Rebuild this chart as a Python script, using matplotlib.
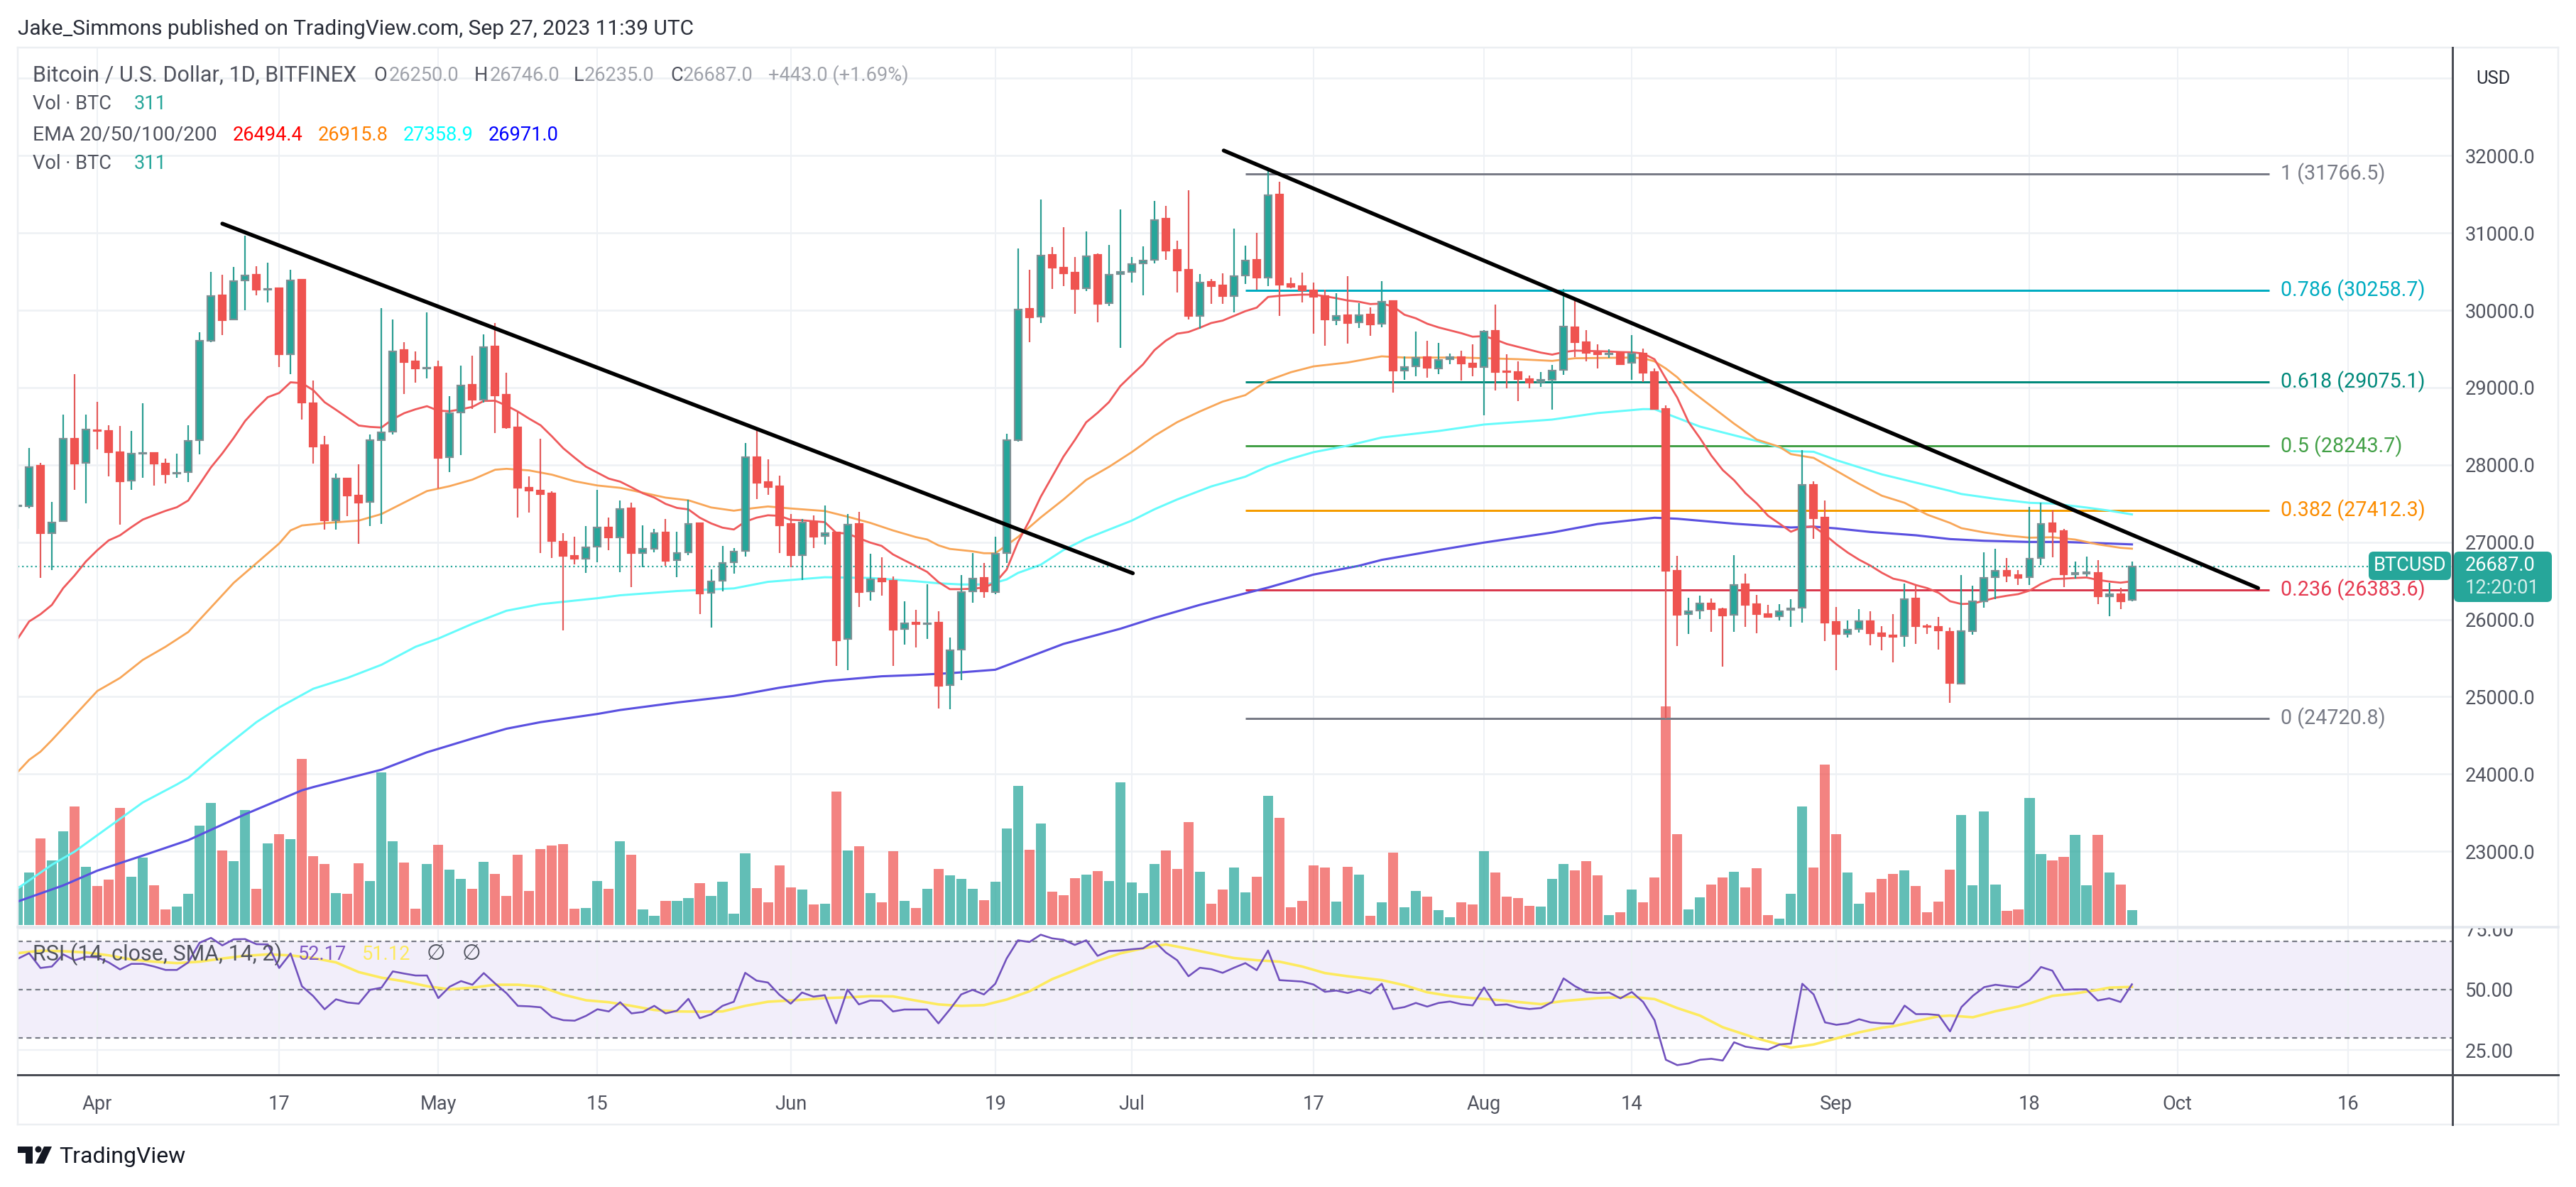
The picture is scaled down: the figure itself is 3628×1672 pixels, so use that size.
import numpy as np
import matplotlib
matplotlib.use('Agg')
import matplotlib.pyplot as plt
from matplotlib.lines import Line2D
from matplotlib.patches import FancyBboxPatch, Rectangle, Polygon, Circle
from matplotlib.transforms import IdentityTransform

W, H = 3628, 1672
DPI = 200
px = 72 / DPI

plt.rcParams['font.family'] = ['Roboto', 'DejaVu Sans']

# day index: 0 = 2023-04-01, last candle = 2023-09-27
days = np.arange(-7, 180)

opens = [27465, 27470, 27986, 27121, 27270, 28342, 28022, 28450, 28443, 28167,
         27797, 28146, 28150, 28018, 27885, 27902, 28316, 29606, 30190, 29878,
         30383, 30456, 30268, 30285, 29431, 30394, 28800, 28251, 27285, 27822,
         27604, 27517, 28324, 28429, 29482, 29337, 29250, 29264, 28095, 28676,
         29036, 28840, 29532, 28910, 28484, 27703, 27663, 27633, 27005, 26821,
         26790, 26943, 27188, 27060, 27440, 26857, 26913, 27127, 26766, 26867,
         27247, 26343, 26499, 26738, 26885, 28101, 27776, 27721, 27237, 26830,
         27259, 27078, 27127, 25749, 27234, 26361, 26527, 26499, 25874, 25960,
         25940, 25957, 25151, 25611, 26361, 26536, 26358, 26856, 28324, 30016,
         29918, 30713, 30548, 30486, 30285, 30716, 30089, 30465, 30493, 30603,
         30649, 31184, 30780, 30523, 29924, 30364, 30321, 30187, 30447, 30652,
         30422, 31495, 30337, 30309, 30260, 30187, 29872, 29933, 29841, 29942,
         29826, 30120, 29221, 29276, 29392, 29246, 29366, 29396, 29313, 29268,
         29730, 29212, 29204, 29111, 29077, 29096, 29227, 29782, 29591, 29452,
         29435, 29452, 29317, 29441, 29201, 28728, 26631, 26068, 26113, 26207,
         26132, 26065, 26455, 26200, 26069, 26042, 26125, 26151, 27741, 27321,
         25967, 25816, 25874, 25982, 25826, 25795, 25783, 26273, 25914, 25905,
         25844, 25172, 25853, 26236, 26543, 26629, 26574, 26546, 26792, 27242,
         27141, 26586, 26595, 26604, 26295, 26328, 26250]
highs = [27804, 28222, 28022, 27525, 28647, 29170, 28647, 28814, 28516, 28502,
         28443, 28799, 28160, 28077, 28149, 28516, 29718, 30492, 30463, 30557,
         30964, 30572, 30619, 30290, 30521, 30408, 29094, 28378, 27884, 27830,
         28004, 28393, 30031, 29885, 29584, 29464, 29973, 29344, 28887, 29282,
         29412, 29688, 29839, 29196, 28689, 27853, 28337, 27654, 27121, 27072,
         27210, 27678, 27320, 27541, 27510, 27219, 27173, 27302, 27136, 27550,
         27250, 26649, 26949, 26925, 28282, 28481, 28071, 27862, 27363, 27296,
         27348, 27473, 27130, 27363, 27391, 26851, 26802, 26554, 26233, 26122,
         26453, 26110, 25764, 26576, 26861, 26729, 27075, 28404, 30798, 30523,
         31431, 30817, 31074, 30685, 31019, 30734, 30844, 31303, 30685, 30829,
         31416, 31349, 30899, 31548, 30468, 30401, 30477, 31052, 30835, 31000,
         31838, 31661, 30422, 30486, 30355, 30263, 30223, 30441, 30095, 30034,
         30376, 30132, 29401, 29722, 29606, 29576, 29441, 29478, 29557, 29745,
         30071, 29433, 29336, 29152, 29197, 29291, 30277, 30165, 29741, 29557,
         29493, 29471, 29681, 29501, 29246, 28773, 26826, 26282, 26309, 26271,
         26151, 26834, 26594, 26320, 26189, 26196, 26264, 28188, 27783, 27539,
         26166, 25991, 26138, 26105, 25911, 26068, 26460, 26436, 25945, 26037,
         25899, 26574, 26436, 26865, 26911, 26795, 26635, 27457, 27509, 27414,
         27169, 26746, 26813, 26767, 26473, 26405, 26746]
lows = [27168, 27441, 26540, 26642, 27259, 27677, 27503, 28204, 27848, 27223,
        27677, 27833, 27728, 27761, 27833, 27775, 28138, 29584, 29682, 29874,
        30002, 30190, 30100, 29268, 29173, 28585, 28015, 27165, 27165, 27339,
        26980, 27209, 27238, 28396, 28919, 29065, 29119, 27695, 27906, 28131,
        28724, 28806, 28413, 28466, 27317, 27387, 26858, 26799, 25862, 26714,
        26606, 26744, 26897, 26612, 26423, 26674, 26873, 26698, 26551, 26836,
        26073, 25893, 26367, 26597, 26809, 27553, 27608, 26861, 26674, 26515,
        26928, 26974, 25403, 25341, 26165, 26248, 26312, 25403, 25678, 25642,
        25749, 24845, 24836, 25219, 26214, 26285, 26328, 26729, 28297, 29590,
        29838, 30279, 30315, 29957, 30248, 29844, 30058, 29514, 30361, 30193,
        30609, 30655, 30233, 29881, 29759, 30086, 30086, 29973, 30340, 30263,
        30315, 29927, 30288, 30104, 29701, 29545, 29811, 29572, 29774, 29673,
        29783, 28933, 29104, 29147, 29132, 29171, 29302, 29088, 29144, 28642,
        28964, 28991, 28825, 28991, 29009, 28713, 29163, 29396, 29336, 29246,
        29388, 29291, 29096, 29077, 28713, 24720, 25656, 25810, 26001, 25840,
        25386, 25840, 25900, 25821, 26027, 25990, 25900, 25956, 27040, 25720,
        25347, 25767, 25832, 25666, 25602, 25445, 25645, 25684, 25813, 25611,
        24924, 25163, 25807, 26151, 26267, 26482, 26445, 26445, 26703, 26807,
        26420, 26531, 26555, 26200, 26043, 26135, 26235]
closes = [27475, 27975, 27121, 27252, 28342, 28018, 28458, 28440, 28167, 27790,
          28146, 28150, 28018, 27880, 27895, 28313, 29606, 30183, 29874, 30376,
          30452, 30267, 30280, 29428, 30390, 28807, 28240, 27281, 27822, 27604,
          27514, 28320, 28422, 29468, 29330, 29250, 29255, 28091, 28669, 29028,
          28840, 29522, 28901, 28481, 27703, 27663, 27620, 27014, 26821, 26790,
          26937, 27194, 27060, 27427, 26857, 26910, 27121, 26760, 26864, 27240,
          26340, 26496, 26735, 26882, 28095, 27773, 27718, 27222, 26830, 27250,
          27075, 27118, 25727, 27228, 26358, 26521, 26496, 25871, 25954, 25940,
          25950, 25145, 25605, 26358, 26530, 26361, 26847, 28320, 30013, 29912,
          30707, 30554, 30480, 30279, 30701, 30086, 30462, 30499, 30600, 30646,
          31171, 30774, 30514, 29927, 30361, 30315, 30187, 30444, 30646, 30425,
          31486, 30330, 30303, 30260, 30172, 29884, 29930, 29838, 29936, 29820,
          30110, 29224, 29270, 29389, 29260, 29354, 29392, 29313, 29264, 29722,
          29197, 29197, 29111, 29066, 29096, 29219, 29790, 29587, 29448, 29433,
          29441, 29302, 29444, 29193, 28720, 26627, 26057, 26102, 26204, 26132,
          26050, 26447, 26189, 26069, 26035, 26110, 26144, 27738, 27314, 25956,
          25813, 25868, 25979, 25822, 25789, 25776, 26261, 25914, 25905, 25859,
          25178, 25850, 26236, 26540, 26626, 26565, 26540, 26788, 27239, 27138,
          26586, 26604, 26611, 26295, 26328, 26236, 26687]

volumes = [816, 1092, 1802, 1344, 1961, 2465, 1221, 810, 945, 2436,
           1004, 1403, 822, 323, 382, 646, 2066, 2542, 1561, 1327,
           2395, 751, 1696, 1890, 1784, 3457, 1432, 1268, 663, 646,
           1286, 916, 3176, 1743, 1297, 335, 1268, 1667, 1151, 957,
           751, 1315, 1062, 605, 1473, 704, 1579, 1655, 1685, 335,
           352, 916, 751, 1743, 1473, 323, 188, 499, 511, 558,
           869, 605, 898, 235, 1491, 763, 470, 1250, 781, 734,
           423, 440, 2777, 1561, 1648, 666, 476, 1541, 501, 355,
           754, 1167, 1033, 964, 754, 520, 900, 2010, 2897, 1566,
           2118, 697, 621, 976, 1052, 1122, 919, 2973, 888, 666,
           1274, 1553, 1167, 2143, 1110, 444, 742, 1198, 678, 1008,
           2695, 2232, 368, 501, 1243, 1198, 488, 1211, 1052, 190,
           476, 1509, 368, 710, 590, 311, 165, 476, 431, 1534,
           1097, 590, 564, 399, 387, 964, 1274, 1141, 1331, 1033,
           209, 266, 742, 476, 989, 4558, 1896, 323, 577, 843,
           989, 1110, 786, 1186, 209, 133, 653, 2473, 1198, 3341,
           1896, 1097, 444, 678, 964, 1065, 1141, 812, 266, 488,
           1154, 2295, 831, 2365, 843, 298, 323, 2650, 1477, 1344,
           1420, 1877, 831, 1877, 1097, 843, 311]

ema20 = [25752, 25974, 26068, 26188, 26406, 26569, 26751, 26896, 27023, 27089,
         27194, 27292, 27350, 27405, 27452, 27539, 27750, 27968, 28149, 28349,
         28567, 28730, 28876, 28930, 29068, 29057, 28966, 28810, 28712, 28610,
         28509, 28491, 28483, 28592, 28669, 28719, 28759, 28701, 28694, 28719,
         28750, 28827, 28830, 28766, 28689, 28597, 28512, 28368, 28214, 28092,
         27976, 27899, 27822, 27783, 27709, 27632, 27577, 27495, 27443, 27424,
         27317, 27243, 27188, 27164, 27265, 27317, 27348, 27341, 27289, 27283,
         27271, 27259, 27121, 27112, 27051, 26995, 26952, 26842, 26766, 26692,
         26616, 26484, 26392, 26392, 26398, 26413, 26476, 26645, 27003, 27278,
         27587, 27847, 28107, 28321, 28551, 28673, 28811, 29019, 29162, 29300,
         29483, 29606, 29697, 29719, 29774, 29835, 29866, 29927, 29988, 30034,
         30172, 30187, 30196, 30202, 30202, 30181, 30156, 30126, 30110, 30080,
         30086, 30049, 29942, 29896, 29826, 29778, 29741, 29703, 29658, 29666,
         29621, 29564, 29527, 29489, 29452, 29426, 29459, 29478, 29474, 29471,
         29467, 29459, 29456, 29441, 29366, 29114, 28870, 28552, 28345, 28120,
         27933, 27801, 27633, 27501, 27340, 27239, 27135, 27193, 27203, 27095,
         26973, 26865, 26773, 26696, 26604, 26528, 26497, 26445, 26405, 26344,
         26236, 26200, 26206, 26243, 26282, 26307, 26328, 26374, 26460, 26522,
         26528, 26537, 26543, 26512, 26491, 26476, 26494]

ema50_days = [-7, -6, -5, -4, -2, 0, 1, 2, 4, 6, 8, 10, 12, 14, 16, 17, 18, 20, 23, 25, 27, 29, 31,
              33, 35, 36, 38, 40, 42, 44, 46, 48, 50, 52, 54, 56, 57, 59, 61, 64, 66, 68, 70, 72, 73,
              74, 75, 77, 78, 79, 81, 83, 85, 87, 89, 91, 93, 95, 97, 99, 101, 102, 103, 105, 107,
              110, 113, 115, 120, 125, 128, 130, 135, 136, 137, 138, 139, 140, 142, 144, 146, 148,
              149, 151, 153, 155, 157, 159, 161, 163, 164, 166, 168, 170, 172, 174, 176, 178, 179]
ema50 = [24027, 24184, 24290, 24439, 24757, 25075, 25159, 25244, 25477, 25647, 25838, 26156, 26474,
         26728, 26983, 27152, 27216, 27246, 27279, 27364, 27513, 27661, 27725,
         27809, 27937, 27949, 27928, 27873, 27788, 27733, 27703, 27640, 27576, 27542, 27449, 27407,
         27428, 27462, 27436, 27403, 27330, 27250, 27152, 27066, 27035,
         26959, 26913, 26882, 26857, 26856, 27067, 27320, 27552, 27805, 27974, 28164, 28375, 28552,
         28691, 28818, 28902, 28999, 29092, 29198, 29274,
         29324, 29404, 29388, 29388, 29367, 29345, 29379, 29388, 29379, 29339, 29246, 29133, 28983,
         28758, 28533, 28327, 28233,
         28139, 28090, 27923, 27755, 27601, 27509, 27356, 27249, 27181, 27126, 27086, 27058, 27064,
         27034, 26972, 26927, 26916]

ema100_days = [-7, -4, -2, 1, 4, 7, 8, 10, 14, 16, 19, 22, 25, 28, 30, 33, 36, 39, 44, 46, 51, 56, 59, 64,
               68, 72, 74, 76, 78, 79, 80, 81, 83, 85, 87, 91, 93, 95, 98, 101, 103, 105, 107, 110, 113,
               118, 122, 128, 132, 136, 137, 139, 141, 143, 146, 148, 149, 151, 153, 155, 157, 160, 163,
               164, 167, 170, 172, 175, 177, 179]
ema100 = [22522, 22827, 22997, 23315, 23633, 23866, 23951, 24205, 24672, 24862, 25104, 25244, 25414,
          25647, 25753, 25944, 26113, 26198, 26275, 26313, 26368, 26402, 26487, 26546,
          26537, 26495, 26468, 26453, 26453, 26476, 26518, 26602, 26708, 26898, 27046, 27278, 27425,
          27552, 27721, 27847, 27982, 28079, 28164, 28248, 28354,
          28438, 28522, 28586, 28670, 28721, 28720, 28608, 28495, 28420, 28308, 28225, 28177, 28169,
          28061, 27969, 27877, 27770, 27663, 27623, 27561, 27509, 27500, 27448, 27408, 27359]

ema200_days = [-7, -3, 0, 4, 8, 13, 18, 19, 25, 29, 33, 36, 39, 44, 46, 51, 56, 60, 64, 69, 72, 75, 79,
               85, 90, 93, 97, 103, 107, 111, 113, 118, 122, 128, 132, 136, 137, 139, 144, 149, 151,
               153, 156, 160, 163, 166, 170, 173, 176, 179]
ema200 = [22352, 22560, 22751, 22946, 23145, 23480, 23790, 23832, 24057, 24282, 24460, 24587, 24672,
          24778, 24829, 24926, 25011, 25117, 25202, 25265, 25282, 25305, 25350,
          25684, 25880, 26020, 26189, 26413, 26581, 26695, 26771, 26898, 26995, 27125, 27235, 27300,
          27316, 27303, 27239, 27190, 27201, 27178, 27132, 27089, 27040, 27018, 27003, 27003, 26988, 26971]

rsi = [62.7, 65.0, 58.9, 59.5, 64.5, 62.1, 63.5, 63.3, 61.2, 58.3, 60.6, 60.6, 59.5, 58.1, 58.1, 61.2,
       69.3, 71.3, 68.2, 70.7, 70.8, 68.7, 68.6, 58.9, 64.9, 51.4, 47.3, 41.9, 46.0, 44.7, 44.2, 49.9,
       50.8, 57.5, 56.6, 55.8, 55.8, 46.5, 51.2, 53.5, 52.0, 56.8, 52.5, 48.5, 43.3, 43.1, 42.7, 38.7,
       37.4, 37.2, 39.2, 41.9, 41.0, 44.8, 40.2, 40.8, 43.3, 40.2, 41.3, 46.2, 38.2, 39.8, 43.3, 45.0,
       56.9, 53.7, 52.9, 47.9, 44.2, 48.8, 47.1, 47.7, 36.1, 50.0, 43.9, 45.5, 45.4, 41.0, 41.8, 41.8,
       41.8, 36.1, 41.8, 48.0, 49.9, 48.0, 52.4, 62.8, 70.3, 69.6, 72.6, 71.1, 70.5, 68.4, 70.3, 63.9,
       65.9, 66.1, 66.6, 67.0, 69.9, 65.3, 62.1, 55.5, 59.0, 58.4, 56.9, 59.0, 60.9, 58.0, 66.1, 53.9,
       53.6, 53.3, 52.1, 49.1, 49.6, 48.6, 49.9, 48.4, 52.4, 42.0, 42.8, 44.5, 43.0, 44.5, 45.1, 44.0,
       43.5, 50.9, 43.6, 43.9, 42.6, 42.0, 42.4, 44.9, 54.6, 51.4, 49.0, 48.6, 48.8, 46.4, 49.0, 44.9,
       37.4, 21.1, 18.9, 19.6, 21.1, 21.5, 20.8, 28.3, 26.5, 25.8, 25.3, 27.4, 27.8, 52.4, 48.0, 36.5,
       35.5, 36.1, 37.8, 36.5, 36.1, 36.0, 43.4, 39.9, 39.9, 39.5, 32.8, 42.8, 47.4, 51.0, 52.0, 51.4,
       50.9, 53.9, 59.3, 57.8, 49.9, 50.1, 50.1, 45.5, 46.4, 44.9, 52.17]

rsi_ma_days = [-7, -5, -3, -1, 1, 3, 5, 7, 9, 11, 13, 15, 17, 19, 21, 23, 25, 27, 29, 31, 33, 35, 37, 39,
               41, 43, 45, 47, 49, 51, 53, 55, 57, 59, 62, 64, 66, 68, 70, 72, 74, 76, 78, 80, 82, 84, 86,
               88, 90, 92, 94, 96, 98, 100, 102, 104, 106, 108, 110, 113, 115, 117, 119, 121, 123, 125,
               127, 129, 132, 135, 137, 139, 141, 143, 146, 148, 149, 151, 153, 155, 157, 158, 160, 162,
               163, 165, 167, 169, 170, 172, 174, 176, 177, 179]
rsi_ma = [65.0, 66.0, 65.8, 65.3, 64.1, 62.4, 61.5, 60.9, 61.5, 62.8, 63.9, 64.5, 64.1, 63.0, 61.2, 57.2,
          54.9, 53.4, 51.4, 50.1, 50.8, 52.0, 52.0, 51.2, 47.9, 45.6, 44.8, 43.3, 41.6, 41.0, 40.9, 41.0,
          43.3, 45.0, 45.8, 46.5, 46.8, 47.3, 47.2, 45.5, 43.9, 43.3, 43.6, 45.9, 49.3, 54.3, 58.0,
          61.8, 64.9, 67.0, 68.6, 66.8, 64.9, 63.0, 62.1, 61.5, 59.5, 56.8, 55.5, 53.9, 51.8, 48.9, 47.4,
          46.5, 45.8, 44.9, 44.0, 45.3, 46.5, 47.0, 46.1, 42.4, 39.3, 34.5, 29.9, 27.4, 26.1, 27.4, 29.9,
          32.4, 34.3, 34.9, 37.0, 39.0, 39.3, 38.6, 41.1, 43.0, 44.3, 47.4, 48.4, 49.9, 50.8, 51.12]

fib_levels = ['1', '0.786', '0.618', '0.5', '0.382', '0.236', '0']
fib_values = [31766.5, 30258.7, 29075.1, 28243.7, 27412.3, 26383.6, 24720.8]
fib_colors = ['#787b86', '#00acc1', '#00897b', '#43a047', '#f59c00', '#d9384d', '#787b86']
fib_text_colors = ['#787b86', '#00acc1', '#00897b', '#43a047', '#fb8c00', '#e53950', '#787b86']

trend1_days, trend1_prices = [11.0, 91.1], [31120, 26598]
trend2_days, trend2_prices = [99.1, 190.1], [32066, 26406]

price_ticks = list(range(23000, 34000, 1000))
tick_days = [0, 16, 30, 44, 61, 79, 91, 107, 122, 135, 153, 170, 183, 198]
tick_names = ['Apr', '17', 'May', '15', 'Jun', '19', 'Jul', '17', 'Aug', '14', 'Sep', '18', 'Oct', '16']

GREEN, RED = '#26a69a', '#ef5350'
GRID = '#eef1f5'
TEXT = '#50535e'
FS = 9.8

fig = plt.figure(figsize=(W / DPI, H / DPI), dpi=DPI, facecolor='white')
ax = fig.add_axes([25 / W, 1 - 1305 / H, 3429 / W, 1238 / H])
ax_rsi = fig.add_axes([25 / W, 1 - 1514 / H, 3429 / W, 209 / H])

xmin, xmax = -7, 207.2
ax.set_xlim(xmin, xmax)
ax.set_ylim(22029, 33398)
ax_rsi.set_xlim(xmin, xmax)
ax_rsi.set_ylim(14.9, 76.0)

opens, highs, lows, closes = map(np.array, (opens, highs, lows, closes))
up = closes >= opens

# volume sits at the bottom of the price pane on its own scale
vol_base = 22047
vol_scale = 0.6205
vol_colors = [GREEN if u else RED for u in up]
ax.bar(days, np.array(volumes) * vol_scale, bottom=vol_base, width=0.88, color=vol_colors, alpha=0.72, zorder=2)

for lvl, val, col in zip(fib_levels, fib_values, fib_colors):
    ax.plot([101, 191.1], [val, val], color=col, lw=3 * px, zorder=2.5, solid_capstyle='butt')
for lvl, val, col in zip(fib_levels, fib_values, fib_text_colors):
    ax.text(192.06, val, f'{lvl} ({val})', color=col, fontsize=10.3, va='center', ha='left')

ax.plot(ema200_days, ema200, color='#5a50e0', lw=3.1 * px, zorder=3)
ax.plot(ema100_days, ema100, color='#66fbfb', lw=3 * px, zorder=3)
ax.plot(ema50_days, ema50, color='#f8a658', lw=2.8 * px, zorder=3)
ax.plot(days, ema20, color='#ef5a5c', lw=2.8 * px, zorder=3)

ax.axhline(closes[-1], color=GREEN, lw=2.2 * px, ls=(0, (1, 1.8)), zorder=3.5)

wick_colors = ['#2a9d92' if u else '#e35b5b' for u in up]
ax.vlines(days, lows, highs, colors=wick_colors, lw=2.2 * px, zorder=4)
edge_colors = ['#7d8f93' if u else RED for u in up]
ax.bar(days, np.abs(closes - opens), bottom=np.minimum(opens, closes), width=0.62,
       color=[GREEN if u else RED for u in up], edgecolor=edge_colors, linewidth=2.2 * px, zorder=5)

ax.plot(trend1_days, trend1_prices, color='black', lw=5.5 * px, zorder=6, solid_capstyle='round')
ax.plot(trend2_days, trend2_prices, color='black', lw=5.5 * px, zorder=6, solid_capstyle='round')

ax.yaxis.tick_right()
ax.set_yticks(price_ticks)
ax.set_yticklabels([f'{p:.1f}' if p < 33000 else '' for p in price_ticks], fontsize=FS, color=TEXT)
ax.set_xticks(tick_days)
ax.set_xticklabels([])
ax.grid(True, color=GRID, lw=2.6 * px)
ax.xaxis.grid(True, lw=2 * px)
ax.set_axisbelow(True)
ax.tick_params(length=0, pad=18 * px)

# RSI pane
ax_rsi.axhspan(30, 70, color='#f2eefa', lw=0, zorder=0.5)
for lvl in (70, 50, 30):
    ax_rsi.axhline(lvl, color='#787b86', lw=2.2 * px, ls=(0, (3.2, 2.4)), zorder=1.5)
ax_rsi.plot(days, rsi, color='#7151bd', lw=2.6 * px, zorder=3)
ax_rsi.plot(rsi_ma_days, rsi_ma, color='#fdea5e', lw=3.6 * px, zorder=2.5)
ax_rsi.yaxis.tick_right()
ax_rsi.set_yticks([25, 50, 75])
ax_rsi.set_yticklabels(['25.00', '50.00', '75.00'], fontsize=FS, color=TEXT)
ax_rsi.set_xticks(tick_days)
ax_rsi.set_xticklabels(tick_names, fontsize=FS, color=TEXT)
ax_rsi.grid(True, color=GRID, lw=2.2 * px)
ax_rsi.set_axisbelow(True)
ax_rsi.tick_params(axis='y', length=0, pad=18 * px)
ax_rsi.tick_params(axis='x', length=0, pad=28 * px)

for a in (ax, ax_rsi):
    a.patch.set_alpha(0)
    for s in a.spines.values():
        s.set_visible(False)


def ftext(x, y, s, **kw):
    kw.setdefault('fontsize', FS)
    kw.setdefault('va', 'center')
    kw.setdefault('zorder', 8)
    fig.text(x / W, 1 - y / H, s, **kw)


def fline(x0, y0, x1, y1, color, lw, z=4):
    fig.add_artist(Line2D([x0 / W, x1 / W], [1 - y0 / H, 1 - y1 / H], color=color, lw=lw * px, zorder=z))


def box(x0, y0, x1, y1, color, rounding=7):
    fig.add_artist(FancyBboxPatch((x0, H - y1), x1 - x0, y1 - y0, boxstyle=f'round,pad=0,rounding_size={rounding}',
                                  fc=color, ec='none', transform=IdentityTransform(), zorder=6))


# hides the top half of the 75.00 label, as the pane edge does
fig.add_artist(Rectangle((3456 / W, 1 - 1306 / H), 140 / W, 16 / H, fc='white', ec='none',
                         transform=fig.transFigure, zorder=3))

# frame
fline(25, 67, 3603, 67, '#eceff2', 2.5)
fline(25, 67, 25, 1584, '#eceff2', 2.5)
fline(3603, 67, 3603, 1584, '#eceff2', 2.5)
fline(25, 1584, 3603, 1584, '#eceff2', 2.5)
fline(25, 1306, 3603, 1306, '#e4e8ee', 3.5)
fline(25, 1514, 3603, 1514, '#4a4d55', 3)
fline(3454, 67, 3454, 1584, '#4a4d55', 3)

# current price labels
box(3336, 777, 3452, 817, GREEN)
box(3456, 777, 3594, 848, GREEN)
ftext(3394, 797, 'BTCUSD', color='white', ha='center')
ftext(3472, 797, '26687.0', color='white')
ftext(3472, 829, '12:20:01', color='#d5eeeb')

# header and legends
ftext(25, 41, 'Jake_Simmons published on TradingView.com, Sep 27, 2023 11:39 UTC', color='#2a2e39', fontsize=10.75)
ftext(3487, 111, 'USD', color='#2a2e39', fontsize=9.2)

ftext(46, 106, 'Bitcoin / U.S. Dollar, 1D, BITFINEX', color=TEXT, fontsize=11)
for x, s in zip([526, 668, 808, 944], 'OHLC'):
    ftext(x, 106, s, color=TEXT)
for x, s in zip([548, 690, 823, 962, 1082],
                ['26250.0', '26746.0', '26235.0', '26687.0', '+443.0 (+1.69%)']):
    ftext(x, 106, s, color='#a0a3ab')
ftext(46, 147, 'Vol · BTC', color=TEXT)
ftext(189, 147, '311', color=GREEN)
ftext(46, 190, 'EMA 20/50/100/200', color=TEXT, fontsize=10.2)
for x, s, c in zip([328, 448, 568, 688], ['26494.4', '26915.8', '27358.9', '26971.0'],
                   ['#ff0000', '#ff8000', '#00ffff', '#0000ff']):
    ftext(x, 190, s, color=c)
ftext(46, 231, 'Vol · BTC', color=TEXT)
ftext(189, 231, '311', color=GREEN)

ftext(46, 1344, 'RSI (14, close, SMA, 14, 2)', color=TEXT, fontsize=11)
ftext(420, 1344, '52.17', color='#7e57c2')
ftext(510, 1344, '51.12', color='#fdea5e')
ftext(601, 1344, '∅', color=TEXT, fontsize=11)
ftext(651, 1344, '∅', color=TEXT, fontsize=11)

# TradingView logo
fig.add_artist(Polygon([(25, H - 1615), (46, H - 1615), (46, H - 1639), (36, H - 1639), (36, H - 1624), (25, H - 1624)],
                       fc='#131722', ec='none', transform=IdentityTransform(), zorder=6))
fig.add_artist(Circle((54, H - 1619), 4.5, fc='#131722', ec='none', transform=IdentityTransform(), zorder=6))
fig.add_artist(Polygon([(62, H - 1615), (73, H - 1615), (62, H - 1639), (50, H - 1639)],
                       fc='#131722', ec='none', transform=IdentityTransform(), zorder=6))
ftext(83, 1629, 'TradingView', color='#131722', fontsize=11.5)

fig.savefig('out.png', dpi=DPI)
